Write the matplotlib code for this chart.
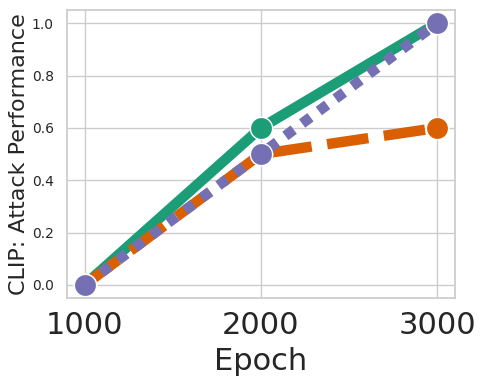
import matplotlib
matplotlib.use("Agg")
import matplotlib.pyplot as plt
import seaborn as sns

sns.set_theme(style="whitegrid")

epochs = [1000, 2000, 3000]
series_names = ["A", "B", "C"]
green_vals = [0.0, 0.6, 1.0]
orange_vals = [0.0, 0.5, 0.6]
purple_vals = [0.0, 0.5, 1.0]
colors = ["#1b9e77", "#d95f02", "#7570b3"]
dashes = [None, (4, 1.5), (1, 1)]

fig = plt.figure(figsize=(4.89, 3.9), dpi=100)
ax = fig.add_axes([0.137, 0.236, 0.793, 0.738])

for vals, c, d in zip([green_vals, orange_vals, purple_vals], colors, dashes):
    line, = ax.plot(epochs, vals, color=c, lw=7.5, marker="o", markersize=16,
                    markeredgecolor="white", markeredgewidth=1.0,
                    solid_capstyle="butt", dash_capstyle="butt")
    if d is not None:
        line.set_dashes(d)

ax.set_xticks(epochs)
ax.set_xticklabels([str(e) for e in epochs], fontsize=22)
ax.set_yticks([0.0, 0.2, 0.4, 0.6, 0.8, 1.0])
ax.tick_params(axis="y", labelsize=10)
ax.set_xlabel("Epoch", fontsize=22, labelpad=5)
ax.set_ylabel("CLIP: Attack Performance", fontsize=16, labelpad=2)

fig.savefig("out.png", dpi=100)
